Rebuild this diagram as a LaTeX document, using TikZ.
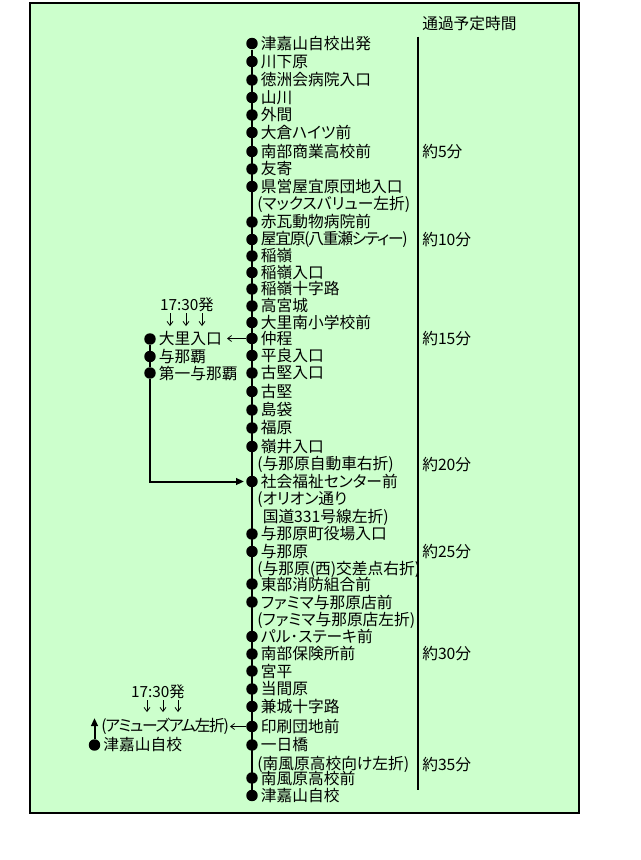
\documentclass[tikz,border=0pt]{standalone}
\usepackage{fontspec}
\setmainfont{Noto Sans CJK JP}[RawFeature=+palt]
\usetikzlibrary{arrows.meta, positioning}
\definecolor{panel}{RGB}{204,255,204}
\tikzset{%
	stop/.style={circle, fill=black, minimum size=8.6pt, inner sep=0pt},
	lbl/.style={inner sep=0pt, font=\fontsize{11.8pt}{13pt}\selectfont},
	tight/.style={font=\fontsize{11.8pt}{13pt}\selectfont\addfontfeature{LetterSpace=-8}},
	note/.style={lbl, anchor=west},
	dep/.style={inner sep=0pt, font=\fontsize{11.5pt}{12pt}\selectfont},
	route/.style={line width=1.5pt},
	turn/.style={-{Straight Barb[length=3pt,width=4.5pt]}, line width=0.6pt},
	jump/.style={route, -{Triangle[length=6pt,width=5pt]}}
}

\begin{document}
\begin{tikzpicture}[x=0.75pt, y=-0.75pt]
	\useasboundingbox[fill=white] (0,0) rectangle (640,860);
	\draw[line width=1.2pt, fill=panel] (30,3) rectangle (579,813);

	% stops on the main route
	\foreach \n/\y/\t in {1/43.5/津嘉山自校出発, 2/61.5/川下原, 3/80/徳洲会病院入口,
		4/97.5/山川, 5/115/外間, 6/132.5/大倉ハイツ前, 7/151.5/南部商業高校前,
		8/169/友寄, 9/186.5/県営屋宜原団地入口, 11/222/赤瓦動物病院前,
		13/256/稲嶺, 14/272.5/稲嶺入口,
		15/289/稲嶺十字路, 16/306/高宮城, 17/322.5/大里南小学校前, 18/338.5/仲程,
		19/355.5/平良入口, 20/373/古堅入口, 21/391.5/古堅, 22/410/島袋, 23/428/福原,
		24/446.5/嶺井入口, 26/481.5/社会福祉センター前, 29/534/与那原町役場入口,
		30/551.5/与那原, 32/584/東部消防組合前, 33/602/ファミマ与那原店前,
		35/636.5/パル･ステーキ前, 36/654/南部保険所前, 37/671/宮平, 38/689/当間原,
		39/706.5/兼城十字路, 40/726.5/印刷団地前, 41/745/一日橋, 43/778/南風原高校前,
		44/795.5/津嘉山自校}{
		\node[stop] (s\n) at (252,\y) {};
		\node[lbl, right=2pt of s\n] (t\n) {\t};
	}
	\node[stop] (s12) at (252,239.5) {};
	\node[lbl, tight, right=2pt of s12] (t12) {屋宜原(八重瀬シティー)};
	\draw[route] (s1) -- (s44);

	% turning notes
	\foreach \n/\y/\t in {10/204/{(マックスバリュー左折)}, 25/464.5/{(与那原自動車右折)},
		27/499.5/{(オリオン通り}, 31/569/{(与那原(西)交差点右折)},
		34/620.5/{(ファミマ与那原店左折)}, 42/764.5/{(南風原高校向け左折)}}
		\node[note] (n\n) at (257,\y) {\t};
	\node[note] (n28) at (262.5,517) {国道331号線左折)};

	% time column
	\node[note] (head) at (422,24) {通過予定時間};
	\coordinate (ttop) at (418,36.5);
	\coordinate (tbot) at (418,790);
	\draw[route] (ttop) -- (tbot);
	\foreach \y/\t [count=\k] in {151.5/約5分, 239.5/約10分, 338.5/約15分, 464.5/約20分,
		551.5/約25分, 654/約30分, 764.5/約35分}
		\node[note] (m\k) at (422,\y) {\t};

	% branch from 仲程
	\node[stop] (b1) at (150,339) {};
	\node[stop] (b2) at (150,356.5) {};
	\node[stop] (b3) at (150,373) {};
	\node[lbl, right=2pt of b1] (u1) {大里入口};
	\node[lbl, right=2pt of b2] (u2) {与那覇};
	\node[lbl, right=2pt of b3] (u3) {第一与那覇};
	\draw[route] (b1) -- (b3);
	\draw[jump, shorten >=1.5pt] (b3) |- (s26);
	\draw[turn] (s18.west) -- ++(-19,0);
	\node[dep] (dep1) at (187,305) {17:30発};
	\foreach \x in {170,186,202}
		\draw[turn] (\x,313) -- (\x,326);

	% branch from 印刷団地前
	\node[stop] (h1) at (94.5,745) {};
	\node[lbl, right=2pt of h1] (h1t) {津嘉山自校};
	\draw[jump] (h1) -- ++(0,-27);
	\node[note, tight] (amu) at (101,726.5) {(アミューズアム左折)};
	\draw[turn] (s40.west) -- ++(-16,0);
	\node[dep] (dep2) at (158,691.5) {17:30発};
	\foreach \x in {147,163,178}
		\draw[turn] (\x,700) -- (\x,712);
\end{tikzpicture}
\end{document}
